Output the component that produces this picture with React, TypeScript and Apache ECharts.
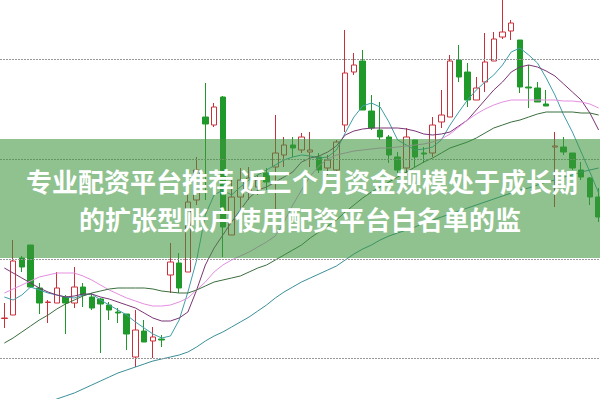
import React, { useEffect, useRef } from "react";
import * as echarts from "echarts";

const categories = [
  "K01","K02","K03","K04","K05","K06","K07","K08","K09","K10",
  "K11","K12","K13","K14","K15","K16","K17","K18","K19","K20",
  "K21","K22","K23","K24","K25","K26","K27","K28","K29","K30",
  "K31","K32","K33","K34","K35","K36","K37","K38","K39","K40",
  "K41","K42","K43","K44","K45","K46","K47","K48","K49","K50",
  "K51","K52","K53","K54","K55","K56","K57","K58","K59","K60",
  "K61","K62","K63","K64","K65","K66","K67","K68","K69",
];

// [open, close, low, high]
const candles: number[][] = [
  [14.05, 14.1, 13.1, 15.6], [14.4, 19.8, 14.4, 21.9], [20.1, 19.2, 18.7, 20.3], [21.4, 17.2, 17.1, 21.4],
  [17.1, 15.6, 14.5, 17.6], [15.65, 15.7, 13.6, 15.9], [15.6, 17.1, 15.6, 18.7], [16.2, 15.6, 12.5, 16.4],
  [15.6, 17.2, 15.1, 19.2], [17.2, 16.4, 15.2, 17.6], [16.2, 15.1, 14.9, 16.6], [16.0, 15.5, 10.6, 16.1],
  [15.4, 14.9, 13.9, 15.7], [14.7, 14.6, 13.6, 15.1], [14.5, 12.5, 10.9, 14.5], [10.2, 12.9, 9.2, 14.9],
  [12.8, 11.7, 11.7, 13.9], [11.8, 12.2, 10.1, 13.2], [12.0, 11.9, 11.2, 12.4], [18.4, 19.7, 16.6, 21.6],
  [19.6, 17.1, 16.6, 20.6], [18.7, 25.7, 18.7, 27.4], [25.9, 28.9, 25.4, 30.2], [34.2, 33.5, 25.9, 37.6],
  [33.4, 35.2, 33.2, 35.6], [36.2, 23.2, 20.2, 36.3], [22.4, 26.2, 22.4, 27.9], [26.2, 27.9, 24.6, 29.1],
  [26.7, 28.1, 25.9, 29.2], [27.2, 27.9, 26.4, 28.4], [28.6, 27.7, 26.9, 29.1], [29.2, 30.6, 22.9, 34.4],
  [30.4, 31.4, 29.2, 32.2], [31.4, 31.1, 30.2, 32.2], [30.9, 32.2, 30.6, 32.6], [30.7, 30.9, 29.2, 32.7],
  [30.2, 28.9, 28.6, 30.6], [29.1, 29.9, 28.4, 30.4], [28.9, 31.7, 28.6, 31.9], [33.4, 38.6, 32.7, 42.9],
  [38.7, 39.4, 38.4, 40.6], [39.8, 34.9, 34.9, 40.9], [34.8, 33.1, 32.9, 36.4], [32.9, 32.2, 31.9, 35.7],
  [32.2, 30.4, 29.6, 32.4], [30.2, 28.9, 28.6, 30.7], [29.1, 32.2, 28.6, 33.1], [31.9, 30.2, 29.2, 31.9],
  [30.6, 30.5, 29.6, 31.2], [30.6, 33.4, 30.2, 34.2], [33.7, 34.4, 33.1, 36.9], [34.2, 39.8, 34.2, 40.4],
  [39.9, 38.2, 37.7, 41.4], [38.7, 35.9, 35.2, 39.6], [35.9, 37.1, 35.9, 38.2], [37.7, 39.7, 36.7, 42.6],
  [39.8, 42.0, 39.8, 42.7], [42.2, 42.7, 42.0, 46.1], [42.8, 43.6, 41.9, 43.9], [41.9, 37.2, 36.6, 41.9],
  [37.2, 37.1, 35.1, 39.4], [37.1, 35.7, 35.7, 37.7], [35.5, 35.3, 35.3, 36.9], [31.2, 31.3, 25.2, 32.7],
  [31.2, 30.7, 30.4, 32.2], [30.6, 29.1, 28.9, 30.6], [28.9, 28.2, 27.9, 29.7], [28.1, 26.2, 25.4, 28.2],
  [26.2, 24.2, 23.7, 27.1],
];

const ma5 = [
  16.2, 15.9, 16.4, 17.2, 16.9, 16.6, 16.4, 16.2, 16.1, 16.4, 16.5, 15.9, 15.4, 14.9, 14.4, 13.7, 13.1, 12.5,
  12.1, 12.3, 13.9, 16.7, 19.9, 24.4, 26.4, 26.9, 26.4, 27.2, 27.9, 28.4, 28.9, 29.4, 29.9, 30.2, 30.4, 30.3,
  30.1, 30.2, 30.9, 32.6, 34.2, 35.3, 35.6, 35.2, 33.7, 31.9, 31.4, 30.9, 31.0, 31.2, 31.9, 33.4, 34.7, 35.9,
  36.9, 37.7, 38.4, 39.4, 40.7, 41.1, 40.4, 39.6, 38.1, 36.4, 34.4, 32.7, 30.7, 28.7, 26.6,
];

const ma10 = [
  19.1, 18.6, 18.1, 17.6, 17.1, 16.7, 16.4, 16.2, 16.3, 16.5, 16.5, 16.2, 16.0, 15.7, 15.4, 15.1, 14.6, 14.1,
  13.8, 13.8, 14.1, 14.7, 16.9, 19.4, 21.1, 22.4, 23.7, 24.9, 26.1, 26.9, 27.2, 27.7, 28.2, 28.7, 29.7, 30.1,
  30.3, 30.7, 31.3, 32.4, 32.8, 33.0, 33.1, 33.1, 33.1, 33.1, 33.0, 32.8, 32.5, 32.4, 32.5, 32.7, 33.3, 33.9,
  34.9, 35.9, 36.9, 37.7, 38.7, 39.2, 39.4, 39.2, 38.8, 38.3, 37.5, 36.7, 35.9, 34.6, 32.9,
];

const ma20 = [
  16.6, 17.0, 17.4, 17.8, 18.2, 18.4, 18.6, 18.6, 18.6, 18.3, 17.9, 17.4, 16.9, 16.5, 16.1, 15.8, 15.5, 15.3,
  15.3, 15.4, 15.7, 16.1, 16.9, 17.7, 18.7, 19.4, 19.9, 20.3, 20.7, 21.2, 21.7, 22.3, 23.7, 25.4, 26.9, 28.3,
  29.3, 30.0, 30.4, 30.6, 30.8, 30.9, 31.0, 31.1, 31.1, 31.2, 31.3, 31.4, 31.5, 31.7, 32.0, 32.5, 33.2, 33.9,
  34.5, 35.0, 35.4, 35.7, 35.9, 35.9, 35.9, 35.9, 35.9, 35.9, 35.8, 35.8, 35.7, 35.5, 35.1,
];

const ma30 = [
  11.6, 12.1, 12.7, 13.3, 13.9, 14.4, 15.0, 15.5, 15.9, 16.3, 16.6, 16.8, 17.0, 17.1, 17.1, 17.1, 17.1, 17.0,
  16.8, 16.7, 16.6, 16.6, 16.9, 17.3, 17.7, 17.9, 18.1, 18.3, 18.7, 19.1, 19.4, 19.9, 20.4, 20.9, 21.4, 22.1,
  22.7, 23.3, 23.9, 24.7, 25.4, 26.1, 26.7, 27.2, 27.7, 28.2, 28.7, 29.2, 29.7, 30.1, 30.6, 31.1, 31.4, 31.7,
  32.1, 32.6, 33.1, 33.4, 33.7, 33.9, 34.2, 34.5, 34.7, 34.7, 34.7, 34.7, 34.6, 34.6, 34.4,
];

const ma60 = [
  4.1, 4.4, 4.7, 5.0, 5.3, 5.7, 6.0, 6.3, 6.6, 7.0, 7.4, 7.8, 8.2, 8.6, 8.9, 9.2, 9.5, 9.8,
  10.0, 10.2, 10.4, 10.7, 11.2, 11.8, 12.3, 12.7, 13.2, 13.7, 14.2, 14.8, 15.4, 16.1, 16.7, 17.2, 17.7, 18.1,
  18.5, 18.9, 19.3, 19.9, 20.5, 21.0, 21.4, 21.9, 22.3, 22.6, 22.9, 23.2, 23.6, 23.9, 24.2, 24.5, 24.8, 25.1,
  25.4, 25.7, 26.0, 26.3, 26.6, 26.9, 27.1, 27.4, 27.7, 27.9, 28.2, 28.4, 28.7, 28.9, 29.1,
];

// visible price range and reference levels
const yMin = 6.0;
const yMax = 45.9;
const gridLevels = [10.1, 20, 30, 40];

const titleLine1 = "专业配资平台推荐 近三个月资金规模处于成长期";
const titleLine2 = "的扩张型账户使用配资平台白名单的监";

function lineSeries(name: string, data: number[], color: string) {
  return {
    name,
    type: "line",
    data,
    symbol: "none",
    showSymbol: false,
    smooth: false,
    clip: false,
    lineStyle: { width: 1, color },
    itemStyle: { color },
    z: 3,
  };
}

export default function App() {
  const ref = useRef<HTMLDivElement>(null);
  useEffect(() => {
    if (!ref.current) return;
    const chart = echarts.init(ref.current, null, { renderer: "svg" });
    chart.setOption({
      animation: false,
      backgroundColor: "#ffffff",
      grid: { left: 0, right: -3, top: 0, bottom: 0, containLabel: false, outerBoundsMode: "none" },
      xAxis: {
        type: "category",
        data: categories,
        boundaryGap: true,
        axisLine: { show: false },
        axisTick: { show: false },
        axisLabel: { show: false },
        splitLine: { show: false },
      },
      yAxis: {
        type: "value",
        min: yMin,
        max: yMax,
        axisLine: { show: false },
        axisTick: { show: false },
        axisLabel: { show: false },
        splitLine: { show: false },
      },
      series: [
        {
          name: "K",
          type: "candlestick",
          data: candles,
          barWidth: 6,
          clip: false,
          itemStyle: {
            color: "#ffffff",
            color0: "#1f9a2a",
            borderColor: "#c8303c",
            borderColor0: "#1f9a2a",
            borderWidth: 1,
          },
          markLine: {
            silent: true,
            symbol: ["none", "none"],
            label: { show: false },
            lineStyle: { color: "#999999", type: [2, 1], width: 1 },
            data: gridLevels.map((v) => ({ yAxis: v })),
          },
          z: 2,
        },
        lineSeries("MA5", ma5, "#3f9ea8"),
        lineSeries("MA10", ma10, "#7a3474"),
        lineSeries("MA20", ma20, "#e48ee0"),
        lineSeries("MA30", ma30, "#3a6e3e"),
        lineSeries("MA60", ma60, "#3a8f99"),
      ],
      graphic: [
        {
          type: "rect",
          z: 100,
          shape: { x: 0, y: 139, width: 600, height: 119 },
          style: { fill: "rgba(60,150,60,0.575)" },
        },
        {
          type: "text",
          z: 101,
          x: 302,
          y: 180,
          style: {
            text: titleLine1,
            fill: "#ffffff",
            font: 'bold 26px "Noto Sans CJK SC", sans-serif',
            align: "center",
            verticalAlign: "middle",
            textAlign: "center",
            textVerticalAlign: "middle",
          },
        },
        {
          type: "text",
          z: 101,
          x: 300,
          y: 218,
          style: {
            text: titleLine2,
            fill: "#ffffff",
            font: 'bold 26px "Noto Sans CJK SC", sans-serif',
            align: "center",
            verticalAlign: "middle",
            textAlign: "center",
            textVerticalAlign: "middle",
          },
        },
      ],
    });
    return () => chart.dispose();
  }, []);
  return (
    <div
      ref={ref}
      style={{ position: "absolute", left: 0, top: 0, width: 600, height: 399 }}
    />
  );
}
